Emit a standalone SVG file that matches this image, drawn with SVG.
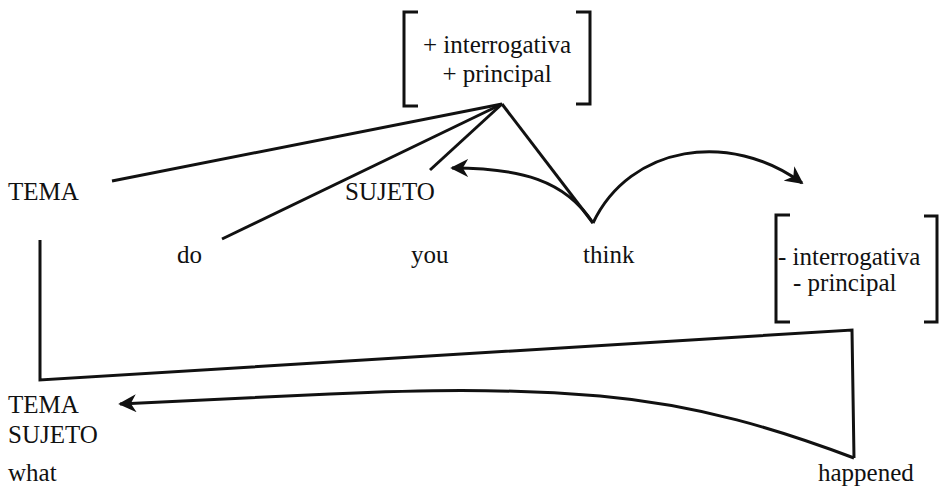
<svg xmlns="http://www.w3.org/2000/svg" width="941" height="491" viewBox="0 0 941 491">
<style>
text{font-family:"Liberation Serif","Times New Roman",serif;font-size:25px;fill:#111}
.ln{fill:none;stroke:#111;stroke-width:3;stroke-linejoin:miter}
.br{fill:none;stroke:#111;stroke-width:3}
</style>
<defs>
<marker id="ah" viewBox="0 0 10 10" refX="9" refY="5" markerWidth="6" markerHeight="6" orient="auto" markerUnits="strokeWidth">
<path d="M0,0 L10,5 L0,10 L3,5 Z" fill="#111"/>
</marker>
</defs>
<g id="feat-top">
<path class="br" d="M418,12 H404 V106 H418"/>
<path class="br" d="M576,12 H590 V104 H576"/>
<text x="497" y="53" text-anchor="middle">+ interrogativa</text>
<text x="497" y="82" text-anchor="middle">+ principal</text>
</g>
<g id="feat-bottom">
<path class="br" d="M790,215 H776 V322 H790"/>
<path class="br" d="M924,216 H937 V322 H924"/>
<text x="778" y="265">- interrogativa</text>
<text x="793" y="291">- principal</text>
</g>
<g id="tema1"><text x="8" y="200">TEMA</text></g>
<g id="sujeto1"><text x="345" y="200">SUJETO</text></g>
<g id="do"><text x="177" y="263">do</text></g>
<g id="you"><text x="411" y="263">you</text></g>
<g id="think"><text x="583" y="263">think</text></g>
<g id="tema2"><text x="8" y="413">TEMA</text></g>
<g id="sujeto2"><text x="8" y="443">SUJETO</text></g>
<g id="what"><text x="8" y="481">what</text></g>
<g id="happened"><text x="818" y="481">happened</text></g>
<g id="connectors">
<line class="ln" x1="502" y1="104" x2="112" y2="181"/>
<line class="ln" x1="502" y1="104" x2="222" y2="239"/>
<line class="ln" x1="502" y1="104" x2="430" y2="170"/>
<polyline class="ln" points="502,104 593,223"/>
<path class="ln" d="M593,223 C565,180 520,168 452,168" marker-end="url(#ah)"/>
<path class="ln" d="M593,223 C630,145 730,130 802,183" marker-end="url(#ah)"/>
<polyline class="ln" points="40,240 40,380 852,330 854,458"/>
<path class="ln" d="M854,458 C780,430 700,405 600,396 C500,388 420,390 330,394 C250,398 180,401 120,404" marker-end="url(#ah)"/>
</g>
</svg>
